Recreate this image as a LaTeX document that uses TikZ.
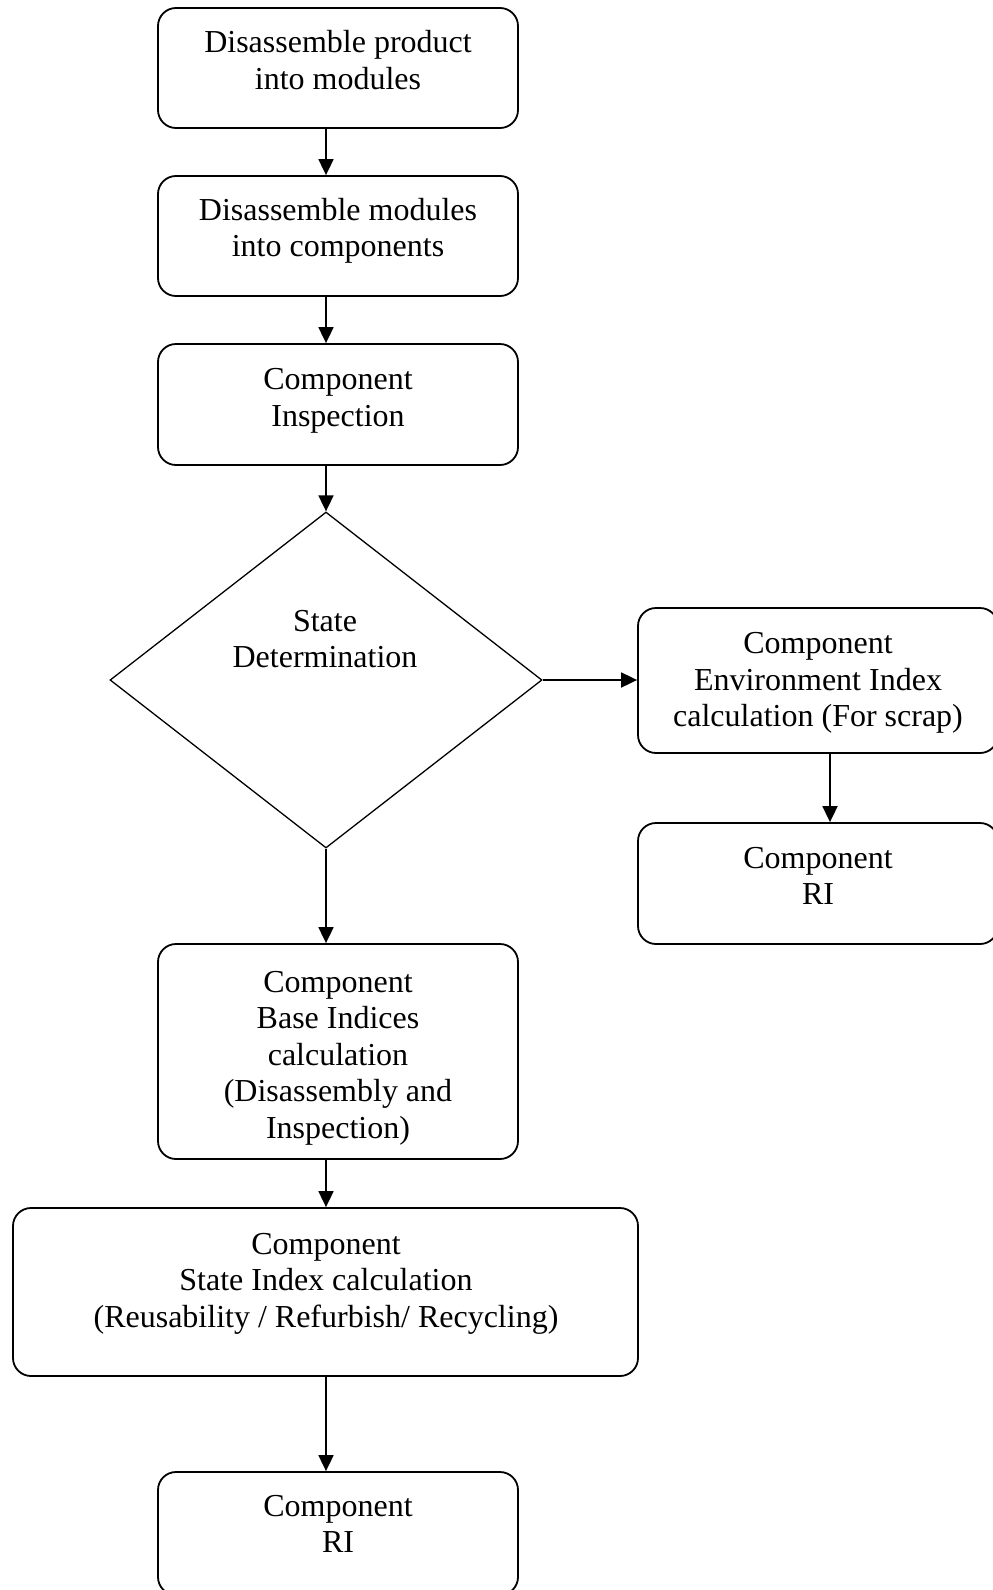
\documentclass[tikz,border=0pt]{standalone}
\usepackage{fontspec}
\setmainfont{Liberation Serif}
\usetikzlibrary{arrows.meta,shapes.geometric}
\begin{document}
\begin{tikzpicture}[x=1pt,y=-1pt,
  box/.style={draw,line width=1.8pt,rounded corners=18pt,minimum width=360pt,inner sep=0pt},
  dia/.style={draw,line width=1.3pt,diamond,minimum width=432pt,minimum height=336pt,inner sep=0pt},
  txt/.style={align=center,font=\fontsize{32}{36.6}\selectfont,inner sep=0pt},
  arr/.style={line width=1.8pt,-{Triangle[length=16pt,width=15pt]}}]
\useasboundingbox (0,0) rectangle (993,1590);
\node[box,minimum height=120pt] (b1) at (338,68) {};
\node[box,minimum height=120pt] (b2) at (338,236) {};
\node[box,minimum height=121pt] (b3) at (338,404.5) {};
\node[dia] (d) at (326,680) {};
\node[box,minimum height=145pt] (r1) at (818,680.5) {};
\node[box,minimum height=121pt] (r2) at (818,883.5) {};
\node[box,minimum height=215pt] (b4) at (338,1051.5) {};
\node[box,minimum width=625pt,minimum height=168pt] (b5) at (325.5,1292) {};
\node[box,minimum height=123pt] (b6) at (338,1533.5) {};
\coordinate (ax) at (830,0);
\node[txt] (t1) at (338,60) {Disassemble product\\into modules};
\node[txt] (t2) at (338,231) {Disassemble modules\\into components};
\node[txt] (t3) at (338,401) {Component\\Inspection};
\node[txt] (td) at (325,639) {State\\Determination};
\node[txt] (tr1) at (818,683) {Component\\Environment Index\\calculation (For scrap)};
\node[txt] (tr2) at (818,876) {Component\\RI};
\node[txt] (t4) at (338,1058) {Component\\Base Indices\\calculation\\(Disassembly and\\Inspection)};
\node[txt] (t5) at (326,1283.5) {Component\\State Index calculation\\(Reusability / Refurbish/ Recycling)};
\node[txt] (t6) at (338,1524) {Component\\RI};
\draw[arr] (b1.south -| d.north) -- (b2.north -| d.north);
\draw[arr] (b2.south -| d.north) -- (b3.north -| d.north);
\draw[arr] (b3.south -| d.north) -- (d.north);
\draw[arr] (d.south) -- (b4.north -| d.south);
\draw[arr] (b4.south -| d.south) -- (b5.north -| d.south);
\draw[arr] (b5.south -| d.south) -- (b6.north -| d.south);
\draw[arr] (d.east) -- (r1.west |- d.east);
\draw[arr] (r1.south -| ax) -- (r2.north -| ax);
\end{tikzpicture}
\end{document}
